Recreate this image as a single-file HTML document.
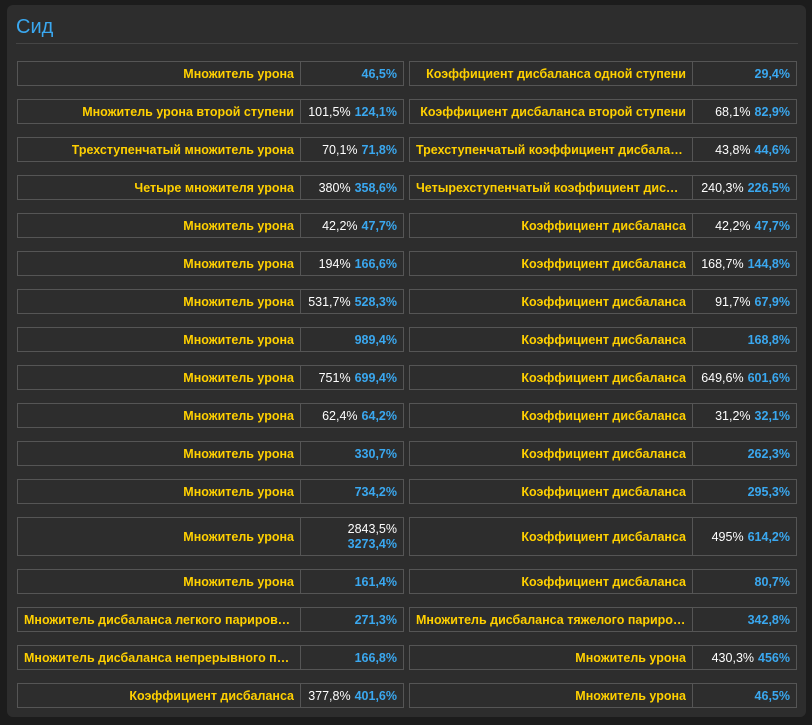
<!DOCTYPE html>
<html><head><meta charset="utf-8"><style>
html,body{margin:0;padding:0;width:812px;height:725px;background:#1c1c1c;overflow:hidden;font-family:"Liberation Sans","DejaVu Sans",sans-serif}
#panel{position:absolute;left:7px;top:5px;width:799px;height:712px;background:#2d2d2d;border-radius:6px}
#title{position:absolute;left:16px;top:16px;font-size:20px;color:#3aa8f0}
#rule{position:absolute;left:16px;top:43px;width:782px;height:1px;background:#454545}
.c{position:absolute;box-sizing:border-box;border:1px solid #555;font-size:12.5px;font-weight:bold;display:flex;align-items:center;justify-content:flex-end;padding:0 6px;white-space:nowrap;overflow:hidden}
.l{color:#ffd000}
.l span{overflow:hidden;text-overflow:ellipsis;display:block;max-width:100%}
.v{border-left:none;color:#fff}
.w{font-weight:normal;color:#fff;margin-right:4px}
.b{color:#3aa8f0}
.v2{flex-direction:column;align-items:flex-end;justify-content:center;line-height:15px}
</style></head><body>
<div id="panel"></div>
<div id="title">Сид</div>
<div id="rule"></div>
<div id="rows"></div>
<script>
const leftLabels=["Множитель урона","Множитель урона второй ступени","Трехступенчатый множитель урона","Четыре множителя урона","Множитель урона","Множитель урона","Множитель урона","Множитель урона","Множитель урона","Множитель урона","Множитель урона","Множитель урона","Множитель урона","Множитель урона","Множитель дисбаланса легкого парирования","Множитель дисбаланса непрерывного парирования","Коэффициент дисбаланса"];
const leftBase=["","101,5%","70,1%","380%","42,2%","194%","531,7%","","751%","62,4%","","","2843,5%","","","","377,8%"];
const leftVal=["46,5%","124,1%","71,8%","358,6%","47,7%","166,6%","528,3%","989,4%","699,4%","64,2%","330,7%","734,2%","3273,4%","161,4%","271,3%","166,8%","401,6%"];
const rightLabels=["Коэффициент дисбаланса одной ступени","Коэффициент дисбаланса второй ступени","Трехступенчатый коэффициент дисбаланса","Четырехступенчатый коэффициент дисбаланса","Коэффициент дисбаланса","Коэффициент дисбаланса","Коэффициент дисбаланса","Коэффициент дисбаланса","Коэффициент дисбаланса","Коэффициент дисбаланса","Коэффициент дисбаланса","Коэффициент дисбаланса","Коэффициент дисбаланса","Коэффициент дисбаланса","Множитель дисбаланса тяжелого парирования","Множитель урона","Множитель урона"];
const rightBase=["","68,1%","43,8%","240,3%","42,2%","168,7%","91,7%","","649,6%","31,2%","","","495%","","","430,3%",""];
const rightVal=["29,4%","82,9%","44,6%","226,5%","47,7%","144,8%","67,9%","168,8%","601,6%","32,1%","262,3%","295,3%","614,2%","80,7%","342,8%","456%","46,5%"];
const rows=document.getElementById('rows');
let y=61;
function cell(x,top,w,h,cls){const d=document.createElement('div');d.className='c '+cls;d.style.left=x+'px';d.style.top=top+'px';d.style.width=w+'px';d.style.height=h+'px';rows.appendChild(d);return d;}
for(let i=0;i<leftLabels.length;i++){
  const h=(i===12)?39:25;
  const sides=[[17,leftLabels[i],leftBase[i],leftVal[i],'left'],[409,rightLabels[i],rightBase[i],rightVal[i],'right']];
  for(const s of sides){
    const lab=cell(s[0],y,284,h,'l');
    
    
    lab.innerHTML='<span>'+s[1]+'</span>';
    const stacked=(i===12&&s[4]==='left');
    const val=cell(s[0]+283,y,s[4]==='left'?104:105,h,'v'+(stacked?' v2':''));
    
    
    val.innerHTML=(s[2]?'<span class="w">'+s[2]+'</span>':'')+'<span class="b">'+s[3]+'</span>';
    if(stacked) val.firstChild.style.marginRight='0';
  }
  y+=h+13;
}
</script>
</body></html>
